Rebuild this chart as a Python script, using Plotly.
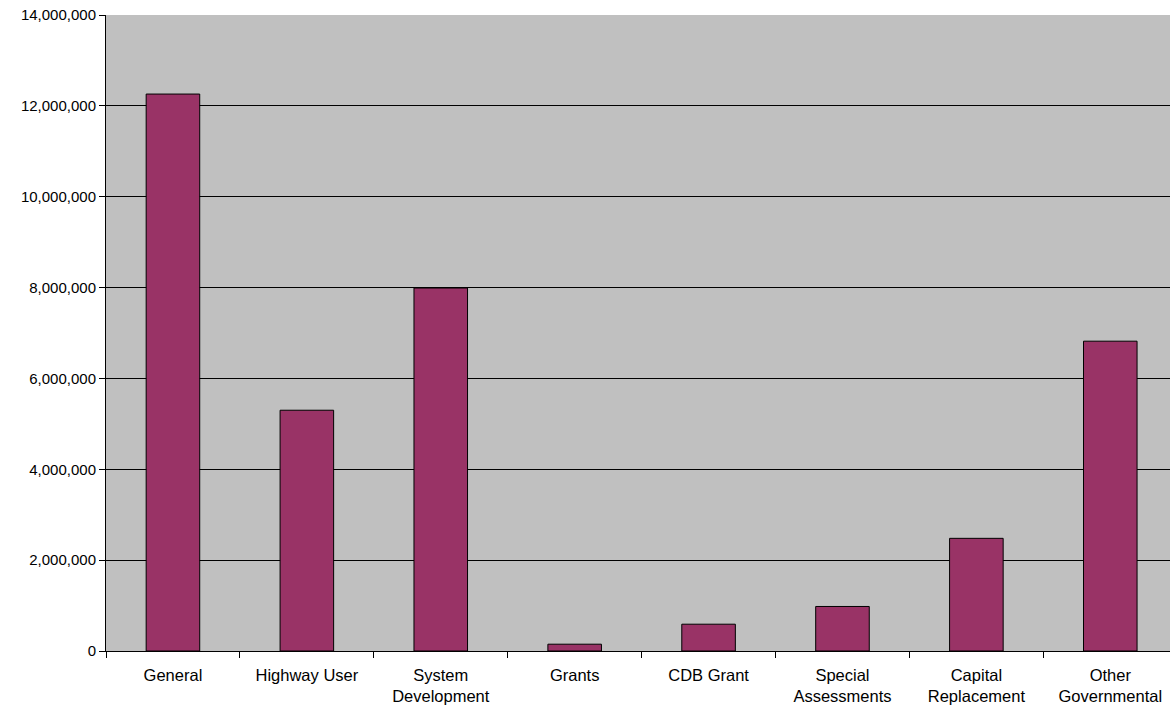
import plotly.graph_objects as go

categories = ["General", "Highway User", "System<br>Development", "Grants", "CDB Grant",
              "Special<br>Assessments", "Capital<br>Replacement", "Other<br>Governmental"]
values = [12260000, 5300000, 7990000, 150000, 590000, 980000, 2480000, 6820000]
y_ticks = [0, 2000000, 4000000, 6000000, 8000000, 10000000, 12000000, 14000000]
y_tick_labels = ["0", "2,000,000", "4,000,000", "6,000,000", "8,000,000",
                 "10,000,000", "12,000,000", "14,000,000"]

fig = go.Figure(go.Bar(
    x=categories, y=values,
    marker=dict(color="#993366", line=dict(color="#000000", width=1)),
))

fig.update_layout(
    width=1170, height=708,
    margin=dict(l=106, r=0, t=15, b=57),
    paper_bgcolor="#FFFFFF",
    plot_bgcolor="#C0C0C0",
    bargap=0.6,
    showlegend=False,
    font=dict(family="Liberation Sans, Arial, sans-serif", size=15, color="#000000"),
)
fig.update_xaxes(
    range=[-0.5, 7.446],
    showline=True, linecolor="#000000", linewidth=1,
    ticks="outside", tickson="boundaries", ticklen=6, tickcolor="#000000",
    showgrid=False, tickfont=dict(size=16.5), ticklabelstandoff=9,
)
fig.update_yaxes(
    range=[0, 14000000], tickvals=y_ticks, ticktext=y_tick_labels,
    showline=True, linecolor="#000000", linewidth=1,
    ticks="outside", ticklen=6, tickcolor="#000000",
    showgrid=True, gridcolor="#000000", gridwidth=1,
    zeroline=False, tickfont=dict(size=15),
)

fig.write_html("out.html")
